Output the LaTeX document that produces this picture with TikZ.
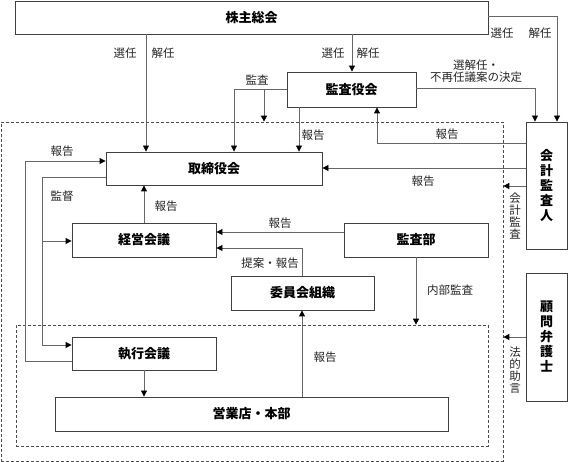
\documentclass[tikz,border=0pt]{standalone}
\usepackage{fontspec}
\setmainfont{Noto Sans CJK JP}
\usetikzlibrary{arrows.meta}
\begin{document}
\begin{tikzpicture}[x=1pt,y=-1pt,
  box/.style={draw=black!75,line width=0.9pt,fill=white,inner sep=0pt,font=\fontsize{13}{14}\selectfont\bfseries},
  vbox/.style={box,align=center,font=\fontsize{13}{15}\selectfont\bfseries},
  dbox/.style={draw=black!70,line width=0.7pt,dash pattern=on 3pt off 2pt,inner sep=0pt},
  conn/.style={draw=black!60,line width=0.9pt},
  arr/.style={conn,-{Triangle[length=6pt,width=6pt,color=black]}},
  lbl/.style={inner sep=0pt,font=\fontsize{11.5}{12.5}\selectfont,text=black!85},
  vlbl/.style={lbl,align=center,font=\fontsize{11.5}{12}\selectfont}]
\useasboundingbox (0,0) rectangle (568,462);
% dashed regions
\node[dbox,minimum width=502pt,minimum height=339pt] (outer) at (252,291.5) {};
\node[dbox,minimum width=472pt,minimum height=121pt] (inner) at (252,385.5) {};
% boxes
\node[box,minimum width=473pt,minimum height=33pt] (kabu) at (251.5,17.5) {株主総会};
\node[box,minimum width=129pt,minimum height=35pt] (kansayaku) at (351.5,89.5) {監査役会};
\node[box,minimum width=216pt,minimum height=33pt] (tori) at (214,168.5) {取締役会};
\node[box,minimum width=144pt,minimum height=34pt] (keiei) at (144,240) {経営会議};
\node[box,minimum width=144pt,minimum height=34pt] (kansabu) at (416,240) {監査部};
\node[box,minimum width=143pt,minimum height=34pt] (iinkai) at (302.5,293) {委員会組織};
\node[box,minimum width=144pt,minimum height=33pt] (shikko) at (144,353.5) {執行会議};
\node[box,minimum width=393pt,minimum height=34pt] (eigyo) at (251.5,414) {営業店・本部};
\node[vbox,minimum width=41pt,minimum height=127pt] (kaikei) at (546.5,185.5) {会\\計\\監\\査\\人};
\node[vbox,minimum width=41pt,minimum height=128pt] (komon) at (546.5,337) {顧\\問\\弁\\護\\士};
% connectors
\draw[arr] (146,0 |- kabu.south) -- (146,0 |- tori.north);
\node[lbl] (l1) at (125,53) {選任};
\node[lbl] (l2) at (163,53) {解任};
\draw[arr] (352,0 |- kabu.south) -- (352,0 |- kansayaku.north);
\node[lbl] (l3) at (333,53) {選任};
\node[lbl] (l4) at (368,53) {解任};
\draw[arr] (kabu.east |- 0,16) -- (557,16) -- (557,0 |- kaikei.north);
\node[lbl] (l5) at (502,33) {選任};
\node[lbl] (l6) at (540,33) {解任};
\draw[arr] (kansayaku.east |- 0,88) -- (535,88) -- (535,0 |- kaikei.north);
\node[lbl,align=center] (l7) at (476,71) {選解任・\\不再任議案の決定};
\draw[arr] (kansayaku.west |- 0,89) -- (234,89) -- (234,0 |- tori.north);
\node[lbl] (l8) at (257,80) {監査};
\draw[arr] (264,89) -- (264,0 |- outer.north);
\draw[arr] (299,0 |- kansayaku.south) -- (299,0 |- tori.north);
\node[lbl] (l9) at (313,135) {報告};
\draw[arr] (kaikei.west |- 0,143) -- (377,143) -- (377,0 |- kansayaku.south);
\node[lbl] (l10) at (447,134) {報告};
\draw[arr] (kaikei.west |- 0,168) -- (tori.east |- 0,168);
\node[lbl] (l11) at (423,181) {報告};
\draw[arr] (kaikei.west |- 0,186) -- (outer.east |- 0,186);
\node[vlbl] (l12) at (515,216) {会\\計\\監\\査};
\draw[arr] (shikko.west |- 0,361) -- (25,361) -- (25,161) -- (tori.west |- 0,161);
\node[lbl] (l13) at (62,151) {報告};
\draw[arr] (tori.west |- 0,177) -- (42,177) -- (42,345) -- (shikko.west |- 0,345);
\draw[arr] (42,241) -- (keiei.west |- 0,241);
\node[lbl] (l14) at (62,196) {監督};
\draw[arr] (144,0 |- keiei.north) -- (144,0 |- tori.south);
\node[lbl] (l15) at (166,206) {報告};
\draw[arr] (kansabu.west |- 0,232) -- (keiei.east |- 0,232);
\node[lbl] (l16) at (280,223) {報告};
\draw[arr] (302,0 |- iinkai.north) -- (302,248) -- (keiei.east |- 0,248);
\node[lbl] (l17) at (270,263) {提案・報告};
\draw[arr] (416,0 |- kansabu.south) -- (416,0 |- inner.north);
\node[lbl] (l18) at (450,290) {内部監査};
\draw[arr] (144,0 |- shikko.south) -- (144,0 |- eigyo.north);
\draw[arr] (302,0 |- eigyo.north) -- (302,0 |- iinkai.south);
\node[lbl] (l19) at (325,357) {報告};
\draw[arr] (komon.west |- 0,337) -- (outer.east |- 0,337);
\node[vlbl] (l20) at (515,370) {法\\的\\助\\言};
\end{tikzpicture}
\end{document}
